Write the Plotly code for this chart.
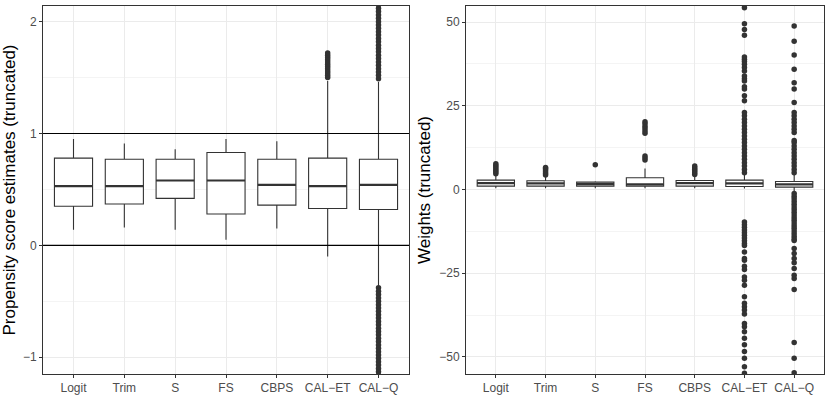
import plotly.graph_objects as go

methods = ["Logit", "Trim", "S", "FS", "CBPS", "CAL−ET", "CAL−Q"]

# left panel: propensity score estimates (box stats)
ps_low = [0.14, 0.16, 0.14, 0.05, 0.15, -0.10, -0.36]
ps_q1 = [0.35, 0.37, 0.42, 0.28, 0.36, 0.33, 0.32]
ps_med = [0.53, 0.53, 0.58, 0.58, 0.54, 0.53, 0.54]
ps_q3 = [0.78, 0.77, 0.77, 0.83, 0.77, 0.78, 0.77]
ps_high = [0.95, 0.91, 0.86, 0.95, 0.93, 1.47, 1.46]
ps_outliers = [
    [], [], [], [], [],
    [1.50, 1.52, 1.54, 1.56, 1.58, 1.60, 1.62, 1.64, 1.66, 1.68, 1.70, 1.72],
    [1.49, 1.52, 1.55, 1.58, 1.61, 1.64, 1.67, 1.70, 1.73, 1.76, 1.79, 1.82,
     1.85, 1.88, 1.91, 1.94, 1.97, 2.00, 2.03, 2.06, 2.09, 2.12, 2.15,
     -0.38, -0.41, -0.44, -0.47, -0.50, -0.53, -0.56, -0.59, -0.62, -0.65,
     -0.68, -0.71, -0.74, -0.77, -0.80, -0.83, -0.86, -0.89, -0.92, -0.95,
     -0.98, -1.01, -1.04, -1.07, -1.10, -1.13, -1.16],
]

# right panel: weights
w_low = [0.4, 0.4, 0.4, 0.4, 0.4, 0.3, -0.6]
w_q1 = [1.0, 1.0, 1.0, 1.0, 1.0, 0.9, 0.7]
w_med = [1.9, 1.8, 1.6, 1.5, 1.9, 1.8, 1.5]
w_q3 = [2.8, 2.6, 2.2, 3.5, 2.7, 2.8, 2.4]
w_high = [4.5, 3.9, 2.5, 6.3, 4.3, 4.8, 4.5]
w_outliers = [
    [4.7, 5.2, 5.7, 6.2, 6.7, 7.2, 7.7],
    [4.3, 4.8, 5.3, 5.8, 6.3, 6.6],
    [7.4],
    [8.8, 9.4, 10.0, 16.8, 17.5, 18.2, 18.9, 19.6, 20.2],
    [4.5, 5.0, 5.5, 6.0, 6.5, 7.0],
    [5.0, 6.0, 7.0, 8.0, 9.0, 10.0, 11.0, 12.0, 13.0, 14.0, 15.0, 16.0,
     17.0, 18.0, 19.0, 20.0, 21.0, 22.0, 23.0, 26.5, 28.0, 30.0, 30.7,
     32.4, 33.1, 33.9, 35.4, 36.4, 37.4, 38.2, 38.9, 39.6, 46.1, 47.8,
     49.5, 54.3,
     -9.7, -10.5, -11.3, -12.1, -12.9, -13.7, -14.5, -15.3, -16.1, -16.7,
     -18.7, -20.6, -21.1, -22.9, -23.9, -26.1, -27.1, -28.6, -32.0, -34.0,
     -35.0, -36.0, -37.2, -40.0, -41.0, -42.5, -44.4, -46.4, -48.4, -50.4,
     -52.9, -54.9],
    [5.0, 6.0, 7.0, 8.0, 9.0, 10.0, 11.0, 12.0, 13.0, 14.0, 14.6, 17.0,
     18.0, 19.0, 20.0, 21.0, 22.0, 23.0, 26.0, 30.0, 31.9, 35.9, 40.2,
     44.3, 48.8,
     -1.2, -2.0, -2.8, -3.6, -4.4, -5.2, -6.0, -6.8, -7.6, -8.4, -9.2,
     -10.0, -10.8, -11.6, -12.4, -13.2, -14.0, -14.8, -15.2, -17.6, -19.1,
     -20.6, -21.9, -23.6, -25.6, -26.6, -29.9, -45.7, -50.4, -54.7],
]

ps_range = [-1.15, 2.14]
w_range = [-55.1, 54.8]

DARK = "#333333"
GRID = "#EBEBEB"
BOX_W = 0.75
FONT = "Liberation Sans, Arial, sans-serif"


def add_panel(fig, xa, ya, low, q1, med, q3, high, outliers):
    pos = list(range(len(methods)))
    fig.add_trace(go.Box(
        x=pos, q1=q1, median=med, q3=q3, lowerfence=low, upperfence=high,
        width=BOX_W, whiskerwidth=0, boxpoints=False, fillcolor="white",
        line=dict(color=DARK, width=1.1), hoverinfo="skip",
        xaxis=xa, yaxis=ya, showlegend=False))
    # thicker median bar, like ggplot's fatten
    mx, my = [], []
    for i, m in enumerate(med):
        mx += [i - BOX_W / 2, i + BOX_W / 2, None]
        my += [m, m, None]
    fig.add_trace(go.Scatter(x=mx, y=my, mode="lines", line=dict(color=DARK, width=2.2),
                             xaxis=xa, yaxis=ya, showlegend=False, hoverinfo="skip"))
    ox, oy = [], []
    for i, vals in enumerate(outliers):
        ox += [i] * len(vals)
        oy += vals
    fig.add_trace(go.Scatter(x=ox, y=oy, mode="markers", marker=dict(color=DARK, size=5.5),
                             xaxis=xa, yaxis=ya, showlegend=False, hoverinfo="skip"))


fig = go.Figure()
add_panel(fig, "x", "y", ps_low, ps_q1, ps_med, ps_q3, ps_high, ps_outliers)
add_panel(fig, "x2", "y2", w_low, w_q1, w_med, w_q3, w_high, w_outliers)

for val in [0, 1]:
    fig.add_shape(type="line", xref="x domain", yref="y", x0=0, x1=1, y0=val, y1=val,
                  line=dict(color="black", width=1.1))

xcommon = dict(tickvals=list(range(len(methods))), ticktext=methods, range=[-0.6, 6.6],
               showgrid=True, gridcolor=GRID, gridwidth=1, zeroline=False,
               showline=True, mirror=True, linecolor=DARK, linewidth=1,
               ticks="outside", ticklen=3, tickcolor=DARK,
               tickfont=dict(size=12, color="#4D4D4D"))
ycommon = dict(showgrid=True, gridcolor=GRID, gridwidth=1, zeroline=False,
               showline=True, mirror=True, linecolor=DARK, linewidth=1,
               ticks="outside", ticklen=3, tickcolor=DARK,
               tickfont=dict(size=12, color="#4D4D4D"))

fig.update_layout(
    width=830, height=396,
    margin=dict(l=0, r=0, t=0, b=0),
    plot_bgcolor="white", paper_bgcolor="white",
    font=dict(family=FONT),
    xaxis=dict(domain=[43 / 830, 409 / 830], anchor="y", **xcommon),
    xaxis2=dict(domain=[466 / 830, 824 / 830], anchor="y2", **xcommon),
    yaxis=dict(domain=[22 / 396, 390 / 396], anchor="x", range=ps_range,
               tickvals=[-1, 0, 1, 2],
               minor=dict(tickvals=[-0.5, 0.5, 1.5], showgrid=True, gridcolor="#F4F4F4", gridwidth=1),
               title=dict(text="Propensity score estimates (truncated)", standoff=4,
                          font=dict(size=17, color="black")),
               **ycommon),
    yaxis2=dict(domain=[22 / 396, 390 / 396], anchor="x2", range=w_range,
                tickvals=[-50, -25, 0, 25, 50],
                minor=dict(tickvals=[-37.5, -12.5, 12.5, 37.5], showgrid=True, gridcolor="#F4F4F4", gridwidth=1),
                title=dict(text="Weights (truncated)", standoff=4,
                           font=dict(size=17, color="black")),
                **ycommon),
)

# the page's default body margin would shift the 830x396 figure out of the window
fig.write_html("out.html", config={"displayModeBar": False},
               post_script="document.body.style.margin = '0';")
